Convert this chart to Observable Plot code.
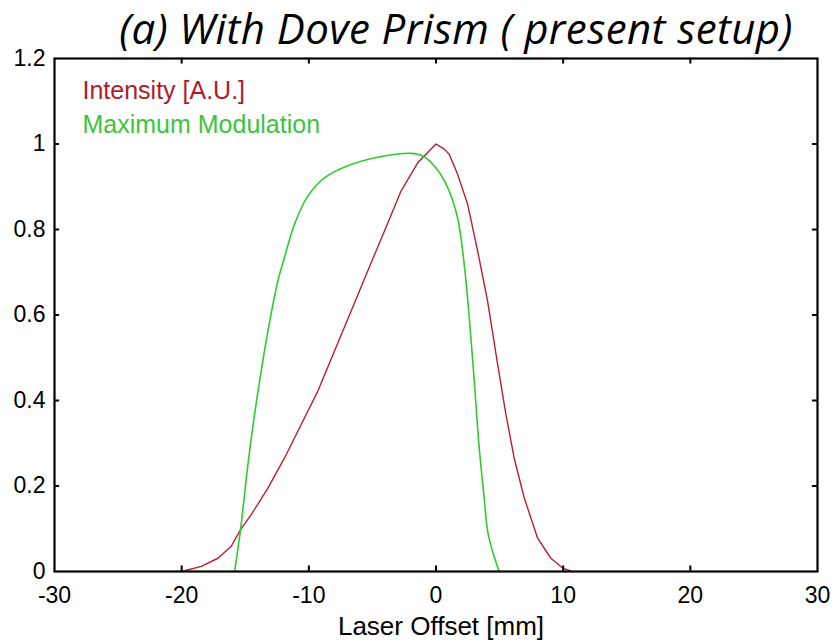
<!DOCTYPE html>
<html>
<head>
<meta charset="utf-8">
<script src="https://cdn.jsdelivr.net/npm/d3@7"></script>
<script src="https://cdn.jsdelivr.net/npm/@observablehq/plot@0.6"></script>
<style>
  html, body { margin: 0; padding: 0; background: #fff; }
  #wrap { width: 835px; }
  #title { height: 50px; line-height: 56px; font-family: "Open Sans", sans-serif; font-style: italic; font-size: 42px; letter-spacing: 0.4px; color: #000; text-align: center; padding-left: 77px; box-sizing: border-box; white-space: nowrap; overflow: visible; }
</style>
</head>
<body>
<div id="wrap">
  <div id="title"></div>
  <div id="chart"></div>
</div>
<script>
const titleText = "(a) With Dove Prism ( present setup)";
const xLabel = "Laser Offset [mm]";
const seriesNames = ["Intensity [A.U.]", "Maximum Modulation"];
const seriesColors = ["#b8202c", "#2fcc2f"];
const legendColors = ["#b01c2a", "#3cc43c"];
const xTicks = [-30, -20, -10, 0, 10, 20, 30];
const yTicks = [0, 0.2, 0.4, 0.6, 0.8, 1, 1.2];
const yTickLabels = ["0", "0.2", "0.4", "0.6", "0.8", "1", "1.2"];

const intensityX = [-20, -18.46, -17.15, -16.1, -15.37, -14.53, -13.22, -11.92, -10.6, -9.29, -7.99, -6.68, -5.37, -4.06, -2.75, -1.44, 0, 0.65, 1.04, 1.7, 2.49, 3.28, 4.06, 4.85, 5.5, 6.15, 6.94, 7.99, 9.03, 9.95, 10.7];
const intensityY = [0, 0.012, 0.031, 0.059, 0.098, 0.133, 0.195, 0.265, 0.344, 0.422, 0.515, 0.609, 0.703, 0.796, 0.89, 0.956, 1.0, 0.988, 0.976, 0.929, 0.859, 0.749, 0.632, 0.484, 0.367, 0.265, 0.172, 0.078, 0.031, 0.008, 0];

const modulationX = [-15.84, -15.37, -14.79, -14.27, -13.75, -13.22, -12.44, -11.92, -11.13, -10.08, -8.77, -6.68, -4.06, -1.96, -1.04, 0, 0.92, 1.7, 2.22, 2.62, 3.01, 3.4, 3.79, 4.06, 4.45, 4.97];
const modulationY = [0, 0.098, 0.25, 0.367, 0.468, 0.562, 0.679, 0.734, 0.812, 0.878, 0.921, 0.952, 0.972, 0.978, 0.972, 0.944, 0.898, 0.827, 0.718, 0.593, 0.445, 0.289, 0.172, 0.094, 0.047, 0];

document.getElementById("title").textContent = titleText;

const intensity = intensityX.map((x, i) => ({x, y: intensityY[i]}));
const modulation = modulationX.map((x, i) => ({x, y: modulationY[i]}));

const font = "'Liberation Sans', Arial, sans-serif";

const chart = Plot.plot({
  width: 835,
  height: 593,
  marginTop: 8,
  marginBottom: 72,
  marginLeft: 54,
  marginRight: 18,
  style: {fontFamily: font, fontSize: "23px", background: "#fff", color: "#000", overflow: "visible"},
  x: {domain: [-30, 30]},
  y: {domain: [0, 1.2]},
  marks: [
    Plot.line(intensity, {x: "x", y: "y", stroke: seriesColors[0], strokeWidth: 1.4}),
    Plot.line(modulation, {x: "x", y: "y", stroke: seriesColors[1], strokeWidth: 1.6, curve: "catmull-rom"}),
    // inward tick marks on all four sides
    Plot.ruleX(xTicks.slice(1, -1), {x: d => d, y1: 0, y2: 0.013, stroke: "#000", strokeWidth: 2}),
    Plot.ruleX(xTicks.slice(1, -1), {x: d => d, y1: 1.2, y2: 1.187, stroke: "#000", strokeWidth: 2}),
    Plot.ruleY(yTicks.slice(1, -1), {y: d => d, x1: -30, x2: -29.6, stroke: "#000", strokeWidth: 2}),
    Plot.ruleY(yTicks.slice(1, -1), {y: d => d, x1: 30, x2: 29.6, stroke: "#000", strokeWidth: 2}),
    Plot.frame({stroke: "#000", strokeWidth: 2.2}),
    Plot.axisX(xTicks, {tickSize: 0, tickPadding: 15, fontSize: 23, label: null, tickFormat: d => d}),
    Plot.axisY(yTicks, {tickSize: 0, tickPadding: 9, fontSize: 23, label: null, tickFormat: d => yTickLabels[yTicks.indexOf(d)]}),
    Plot.text([xLabel], {frameAnchor: "bottom", lineAnchor: "top", dx: 5, dy: 45, fontSize: 26, fill: "#000", text: d => d}),
    Plot.text([seriesNames[0]], {frameAnchor: "top-left", lineAnchor: "top", dx: 28, dy: 23, text: d => d, fill: legendColors[0], fontSize: 25, textAnchor: "start"}),
    Plot.text([seriesNames[1]], {frameAnchor: "top-left", lineAnchor: "top", dx: 28, dy: 57, text: d => d, fill: legendColors[1], fontSize: 25, textAnchor: "start"})
  ]
});
document.getElementById("chart").appendChild(chart);
</script>
</body>
</html>
